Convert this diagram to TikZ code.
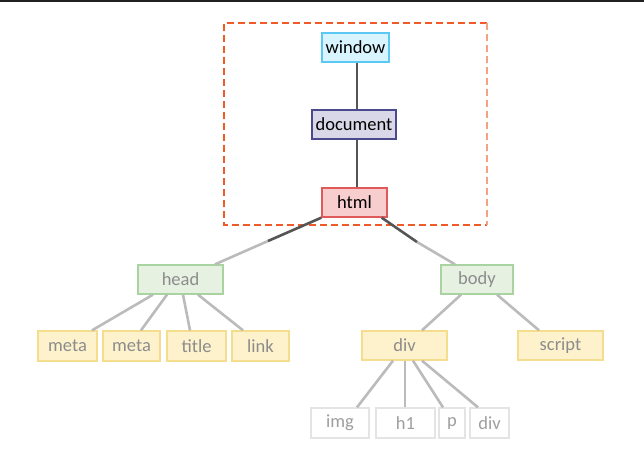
\documentclass[tikz,border=0pt]{standalone}
\usepackage{fontspec}
\setmainfont{Carlito}
\usetikzlibrary{calc}
\definecolor{winfill}{HTML}{D8F4FE}
\definecolor{windraw}{HTML}{5CC8F4}
\definecolor{docfill}{HTML}{D8D8E8}
\definecolor{docdraw}{HTML}{4A4A8C}
\definecolor{htmlfill}{HTML}{F8CDCD}
\definecolor{htmldraw}{HTML}{E05A5A}
\definecolor{grfill}{HTML}{E6F1E2}
\definecolor{grdraw}{HTML}{A9D3A1}
\definecolor{yefill}{HTML}{FDF2CC}
\definecolor{yedraw}{HTML}{F4DE8E}
\definecolor{ltdraw}{HTML}{E4E4E4}
\definecolor{darkedge}{HTML}{555555}
\definecolor{lightedge}{HTML}{BBBBBB}
\definecolor{dashcol}{HTML}{F05A28}
\definecolor{dashcol2}{HTML}{F5A282}
\tikzset{
  box/.style={draw, line width=1.3pt, inner sep=0pt, font=\fontsize{18.5}{20}\selectfont, anchor=center},
  topbox/.style={box, text=black},
  winbox/.style={topbox, fill=winfill, draw=windraw},
  docbox/.style={topbox, fill=docfill, draw=docdraw},
  htmlbox/.style={topbox, fill=htmlfill, draw=htmldraw},
  greenbox/.style={box, fill=grfill, draw=grdraw, text=black!45},
  yellowbox/.style={box, fill=yefill, draw=yedraw, text=black!45},
  leafbox/.style={box, fill=white, draw=ltdraw, text=black!38},
  darkline/.style={draw=darkedge, line width=2.6pt},
  lightline/.style={draw=lightedge, line width=2.6pt},
}
\begin{document}
\begin{tikzpicture}[x=1pt,y=-1pt]
\useasboundingbox (0,0) rectangle (644,456);
\fill[black!87] (0,0) rectangle (644,2);
% dashed frame
\coordinate (fA) at (224,23);
\coordinate (fB) at (487,23);
\coordinate (fC) at (487,225);
\coordinate (fD) at (224,225);
\draw[dashcol, line width=1.4pt, dash pattern=on 7pt off 4pt] (fB) -- (fA) -- (fD) -- (fC);
\draw[dashcol2, line width=1.6pt, dash pattern=on 7pt off 4pt] (fB) -- (fC);
% nodes
\node[winbox, minimum width=67pt, minimum height=29pt] (window) at (355.5,47.5) {window};
\node[docbox, minimum width=84pt, minimum height=29pt] (document) at (354,124.5) {document};
\node[htmlbox, minimum width=65pt, minimum height=29pt] (html) at (354.5,202.5) {html};
\node[greenbox, minimum width=85pt, minimum height=29pt] (head) at (180.5,279.5) {head};
\node[greenbox, minimum width=72pt, minimum height=29pt] (body) at (477,279.5) {body};
\node[yellowbox, minimum width=59pt, minimum height=30pt] (meta1) at (67.5,346) {meta};
\node[yellowbox, minimum width=57pt, minimum height=30pt] (meta2) at (131.5,346) {meta};
\node[yellowbox, minimum width=59pt, minimum height=30pt] (title) at (196.5,346) {title};
\node[yellowbox, minimum width=57pt, minimum height=30pt] (link) at (260.5,346) {link};
\node[yellowbox, minimum width=85pt, minimum height=29pt] (div) at (404.5,345.5) {div};
\node[yellowbox, minimum width=85pt, minimum height=29pt] (script) at (560.5,345.5) {script};
\node[leafbox, minimum width=58pt, minimum height=30pt] (img) at (340,423) {img};
\node[leafbox, minimum width=59pt, minimum height=30pt] (h1) at (405.5,423) {h1};
\node[leafbox, minimum width=26pt, minimum height=30pt] (p) at (452,423) {p};
\node[leafbox, minimum width=39pt, minimum height=30pt] (div2) at (489.5,423) {div};
% connectors
\coordinate (vx) at (357,0);
\coordinate (hl) at (268,241);
\coordinate (hr) at (417,242);
\draw[darkline] (window.south -| vx) -- (document.north -| vx);
\draw[darkline] (document.south -| vx) -- (html.north -| vx);
\draw[lightline] (hl) -- ([xshift=34.5pt]head.north);
\draw[darkline] (html.south west) -- (hl);
\draw[lightline] (hr) -- ([xshift=-22pt]body.north);
\draw[darkline] ([xshift=-6pt]html.south east) -- (hr);
\draw[lightline] ([xshift=-27.5pt]head.south) -- ([xshift=24.5pt]meta1.north);
\draw[lightline] ([xshift=-13.5pt]head.south) -- ([xshift=9.5pt]meta2.north);
\draw[lightline] ([xshift=2.5pt]head.south) -- ([xshift=-6.5pt]title.north);
\draw[lightline] ([xshift=17.5pt]head.south) -- ([xshift=-17.5pt]link.north);
\draw[lightline] ([xshift=-16pt]body.south) -- ([xshift=17.5pt]div.north);
\draw[lightline] ([xshift=20pt]body.south) -- ([xshift=-21.5pt]script.north);
\draw[lightline] ([xshift=-11.5pt]div.south) -- ([xshift=17pt]img.north);
\draw[lightline] ([xshift=0.5pt]div.south) -- ([xshift=-0.5pt]h1.north);
\draw[lightline] ([xshift=8.5pt]div.south) -- ([xshift=-9pt]p.north);
\draw[lightline] ([xshift=17.5pt]div.south) -- ([xshift=-11.5pt]div2.north);
\end{tikzpicture}
\end{document}
